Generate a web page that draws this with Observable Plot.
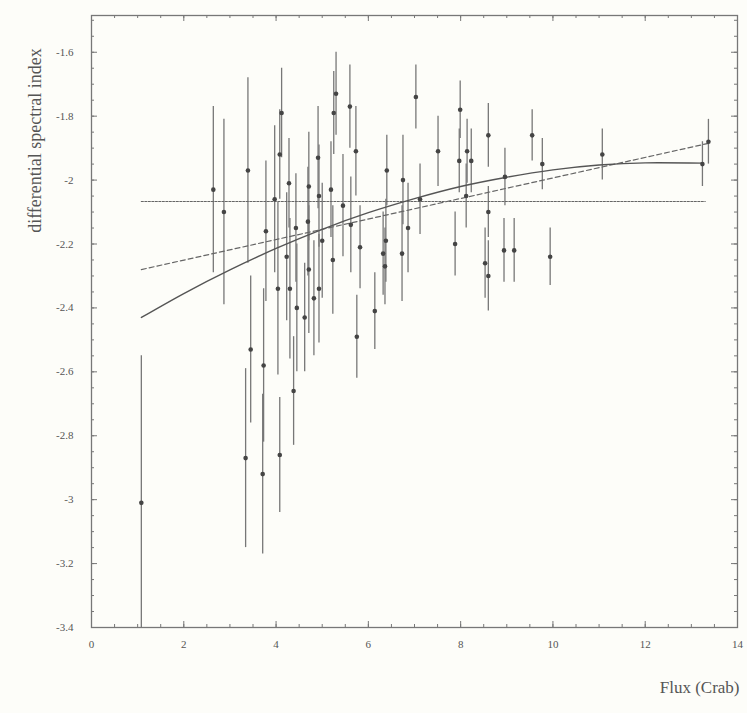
<!DOCTYPE html>
<html><head><meta charset="utf-8">
<script src="https://cdn.jsdelivr.net/npm/d3@7"></script>
<script src="https://cdn.jsdelivr.net/npm/@observablehq/plot@0.6"></script>
<style>html,body{margin:0;padding:0;background:#fdfdf9;} #chart svg{display:block}</style>
</head><body><div id="chart"></div>
<script>
// Measured points: flux (Crab), differential spectral index, symmetric error
const flux = [1.08,2.64,2.87,3.39,3.34,3.45,3.73,3.71,3.78,3.97,4.12,4.08,4.04,4.08,4.23,4.28,4.30,4.38,4.43,4.45,4.62,4.69,4.71,4.71,4.82,4.91,4.93,4.93,5.00,5.19,5.23,5.25,5.30,5.45,5.60,5.62,5.73,5.75,5.82,6.14,6.32,6.38,6.36,6.40,6.73,6.75,6.86,7.03,7.12,7.51,7.88,7.99,7.97,8.14,8.23,8.12,8.53,8.60,8.60,8.60,8.94,8.96,9.16,9.55,9.77,9.94,11.07,13.24,13.37];
const index = [-3.01,-2.03,-2.10,-1.97,-2.87,-2.53,-2.58,-2.92,-2.16,-2.06,-1.79,-1.92,-2.34,-2.86,-2.24,-2.01,-2.34,-2.66,-2.15,-2.40,-2.43,-2.13,-2.02,-2.28,-2.37,-1.93,-2.05,-2.34,-2.19,-2.03,-2.25,-1.79,-1.73,-2.08,-1.77,-2.14,-1.91,-2.49,-2.21,-2.41,-2.23,-2.19,-2.27,-1.97,-2.23,-2.00,-2.15,-1.74,-2.06,-1.91,-2.20,-1.78,-1.94,-1.91,-1.94,-2.05,-2.26,-2.30,-2.10,-1.86,-2.22,-1.99,-2.22,-1.86,-1.95,-2.24,-1.92,-1.95,-1.88];
const err = [0.46,0.26,0.29,0.29,0.28,0.23,0.24,0.25,0.22,0.23,0.14,0.14,0.27,0.18,0.20,0.14,0.22,0.17,0.17,0.20,0.17,0.17,0.17,0.20,0.18,0.16,0.16,0.17,0.18,0.15,0.17,0.13,0.13,0.16,0.13,0.15,0.14,0.13,0.13,0.12,0.13,0.13,0.12,0.11,0.15,0.14,0.14,0.10,0.11,0.11,0.10,0.09,0.10,0.10,0.10,0.10,0.11,0.11,0.08,0.10,0.10,0.09,0.10,0.08,0.08,0.09,0.08,0.07,0.07];

// Fitted curve (solid)
const fitX = [1.08,2,3,4,5,6,7,8,9,10,11,12,13.24];
const fitY = [-2.43,-2.355,-2.281,-2.214,-2.154,-2.102,-2.058,-2.020,-1.991,-1.968,-1.953,-1.946,-1.947];
// Linear fit (dashed)
const dashX = [1.08,13.37];
const dashY = [-2.28,-1.885];
// Constant fit (dotted)
const flatX = [1.08,13.30];
const flatY = [-2.067,-2.067];

// Tick values
const xMajor = [0,2,4,6,8,10,12,14];
const xMinor = d3.range(0,14.001,0.5);
const yMajor = [-3.4,-3.2,-3,-2.8,-2.6,-2.4,-2.2,-2,-1.8,-1.6];
const yMinor = d3.range(-3.4,-1.49,0.05);

const points = flux.map((f,i)=>({flux:f, index:index[i], err:err[i]}));
const fit = fitX.map((x,i)=>({x, y:fitY[i]}));
const dash = dashX.map((x,i)=>({x, y:dashY[i]}));
const flat = flatX.map((x,i)=>({x, y:flatY[i]}));

const W = 747, H = 713, ML = 91, MR = 10, MT = 15, MB = 86;
const PW = W - ML - MR, PH = H - MT - MB;
const tickStroke = "#777";
const textFill = "#555";

function inTicksX(vals, len) {
  return [
    Plot.tickX(vals, {x:d=>d, insetTop:PH-len, stroke:tickStroke, strokeWidth:1}),
    Plot.tickX(vals, {x:d=>d, insetBottom:PH-len, stroke:tickStroke, strokeWidth:1})
  ];
}
function inTicksY(vals, len) {
  return [
    Plot.tickY(vals, {y:d=>d, insetRight:PW-len, stroke:tickStroke, strokeWidth:1}),
    Plot.tickY(vals, {y:d=>d, insetLeft:PW-len, stroke:tickStroke, strokeWidth:1})
  ];
}

const chart = Plot.plot({
  width:W, height:H,
  marginLeft:ML, marginRight:MR, marginTop:MT, marginBottom:MB,
  style:{background:"#fdfdf9", fontFamily:"'Liberation Serif', serif", color:"#555"},
  x:{domain:[0,14], label:null},
  y:{domain:[-3.4,-1.485], label:null},
  marks:[
    Plot.ruleX(points, {x:"flux", y1:d=>d.index-d.err, y2:d=>d.index+d.err, stroke:"#777", strokeWidth:1.3, clip:true}),
    Plot.line(flat, {x:"x", y:"y", stroke:"#666", strokeWidth:1.2, strokeDasharray:"2,1.5"}),
    Plot.line(dash, {x:"x", y:"y", stroke:"#666", strokeWidth:1.2, strokeDasharray:"5,3"}),
    Plot.line(fit, {x:"x", y:"y", curve:"natural", stroke:"#555", strokeWidth:1.4}),
    Plot.dot(points, {x:"flux", y:"index", r:2.3, fill:"#444"}),
    ...inTicksX(xMajor, 6),
    ...inTicksX(xMinor, 3),
    ...inTicksY(yMajor, 6),
    ...inTicksY(yMinor, 3),
    Plot.frame({stroke:"#777", strokeWidth:1.3}),
    Plot.axisX(xMajor, {anchor:"bottom", tickSize:0, tickPadding:13, fontSize:11, fill:textFill, label:null, tickFormat:d=>String(d)}),
    Plot.axisY(yMajor, {anchor:"left", tickSize:0, tickPadding:18, fontSize:11, fill:textFill, label:null, tickFormat:d=>String(d)}),
    Plot.text(["differential spectral index"], {text:d=>d, frameAnchor:"top-left", rotate:-90, dx:-63, dy:125, fontSize:18, textAnchor:"middle", fill:textFill}),
    Plot.text(["Flux (Crab)"], {text:d=>d, frameAnchor:"bottom-right", dx:2, dy:65, textAnchor:"end", fontSize:17, fill:textFill})
  ]
});
document.getElementById("chart").appendChild(chart);
</script>
</body></html>
